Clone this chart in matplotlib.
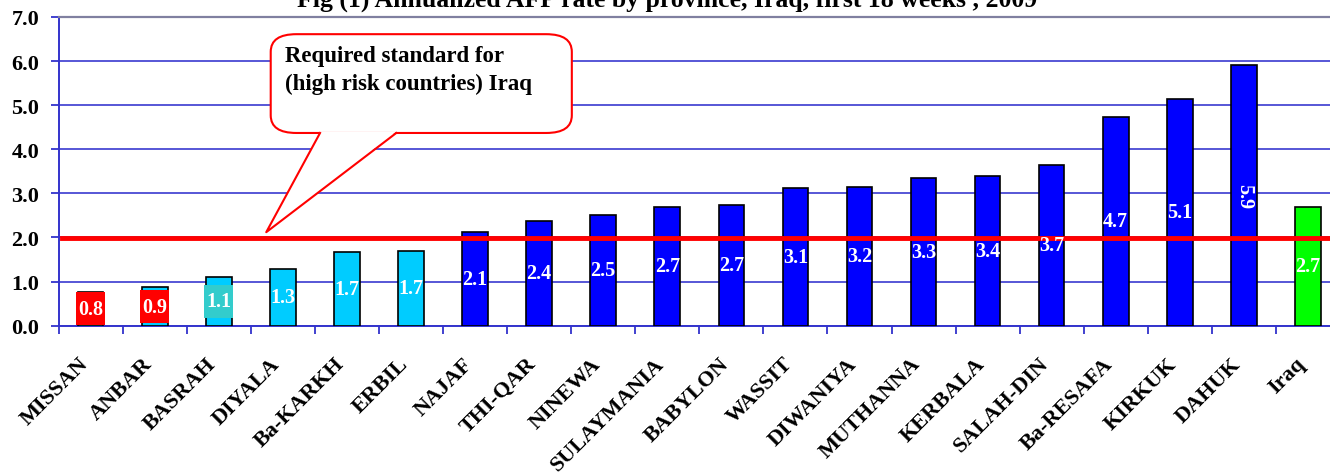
import matplotlib
matplotlib.use("Agg")
import matplotlib.pyplot as plt
from matplotlib.patches import FancyBboxPatch, Polygon
from matplotlib.transforms import ScaledTranslation

# data
provinces = ["MISSAN", "ANBAR", "BASRAH", "DIYALA", "Ba-KARKH", "ERBIL", "NAJAF",
             "THI-QAR", "NINEWA", "SULAYMANIA", "BABYLON", "WASSIT", "DIWANIYA",
             "MUTHANNA", "KERBALA", "SALAH-DIN", "Ba-RESAFA", "KIRKUK", "DAHUK", "Iraq"]
afp_rate = [0.77, 0.87, 1.10, 1.28, 1.67, 1.70, 2.12, 2.37, 2.52, 2.70, 2.73, 3.13,
            3.15, 3.35, 3.40, 3.65, 4.73, 5.14, 5.90, 2.69]
rate_labels = ["0.8", "0.9", "1.1", "1.3", "1.7", "1.7", "2.1", "2.4", "2.5", "2.7",
               "2.7", "3.1", "3.2", "3.3", "3.4", "3.7", "4.7", "5.1", "5.9", "2.7"]
required_standard = 1.98
yticks = [0.0, 1.0, 2.0, 3.0, 4.0, 5.0, 6.0, 7.0]

cyan = "#00CCFF"
blue = "#0000FF"
green = "#00FF00"
red = "#FF0000"


def bar_color(i, v):
    if provinces[i] == "Iraq":
        return green
    if v < 2.0:
        return cyan
    return blue


# label background boxes for the first provinces (as in the original)
label_box = {0: red, 1: red, 2: "#33CCCC"}

serif = "Liberation Serif"
plt.rcParams["font.family"] = [serif, "DejaVu Serif"]

fig = plt.figure(figsize=(13.3, 4.77), dpi=100)
ax = fig.add_axes([0.0441, 0.3151, 0.9634, 0.6472])

n = len(provinces)
x = list(range(n))
colors = [bar_color(i, v) for i, v in enumerate(afp_rate)]
ax.bar(x, afp_rate, width=0.4, color=colors, edgecolor="black", linewidth=1.2, zorder=3)

# coloured label backgrounds, centred on the label position
for i, c in label_box.items():
    ax.bar(i, 0.74, bottom=afp_rate[i] / 2 - 0.37, width=0.45, color=c, zorder=4)

for i, v in enumerate(afp_rate):
    rot = -90 if provinces[i] == "DAHUK" else 0
    ax.text(i, v / 2, rate_labels[i], ha="center", va="center", color="white",
            fontsize=14.5, fontweight="bold", rotation=rot, zorder=7)

# required standard line
ax.axhline(required_standard, xmin=0.003, xmax=1, color=red, linewidth=3.5, zorder=6)

# callout
box = FancyBboxPatch((2.81, 4.37), 7.51 - 2.81, 6.61 - 4.37,
                     boxstyle="round,pad=0,rounding_size=0.4",
                     facecolor="white", edgecolor=red, linewidth=1.5, zorder=8)
ax.add_patch(box)
tail = Polygon([(3.58, 4.40), (2.74, 2.12), (4.77, 4.40)], closed=False,
               facecolor="white", edgecolor="none", zorder=9)
ax.add_patch(tail)
ax.plot([3.58, 2.74, 4.77], [4.37, 2.12, 4.37], color=red, linewidth=1.5, zorder=10)
ax.text(3.03, 6.36, "Required standard for\n(high risk countries) Iraq",
        ha="left", va="top", fontsize=16.5, fontweight="bold", linespacing=1.42, zorder=11)

# axes styling
ax.set_xlim(-0.5, n - 0.5)
ax.set_ylim(0, 7)
ax.set_yticks(yticks)
ax.set_yticklabels(["%.1f" % t for t in yticks], fontsize=16, fontweight="bold")
ax.yaxis.grid(True, color="#2828CC", linewidth=1.1, zorder=0)
ax.set_axisbelow(True)
ax.tick_params(axis="y", length=6, width=1.3, color="#3333CC", pad=8)

ax.set_xticks([i - 0.5 for i in range(n + 1)])
ax.set_xticklabels([])
ax.tick_params(axis="x", which="major", length=6, width=1.3, color="#3333CC")
ax.set_xticks(x, minor=True)
ax.set_xticklabels(provinces, minor=True, rotation=45, ha="right", va="top",
                   rotation_mode="anchor", fontsize=16, fontweight="bold")
ax.tick_params(axis="x", which="minor", length=0, pad=20)
shift = ScaledTranslation(-13 / 100, 0, fig.dpi_scale_trans)
for lab in ax.get_xticklabels(minor=True):
    lab.set_transform(lab.get_transform() + shift)

ax.spines["top"].set_color("#8080A0")
ax.spines["top"].set_linewidth(1.6)
ax.spines["right"].set_visible(False)
ax.spines["left"].set_color("#3333CC")
ax.spines["left"].set_linewidth(1.4)
ax.spines["bottom"].set_color("#3333CC")
ax.spines["bottom"].set_linewidth(1.4)

fig.text(0.5015, 1 - 7 / 477, "Fig (1) Annualized AFP rate by province, Iraq, first 18 weeks , 2009",
         ha="center", va="baseline", fontsize=18.5, fontweight="bold")

fig.savefig("out.png", dpi=100)
